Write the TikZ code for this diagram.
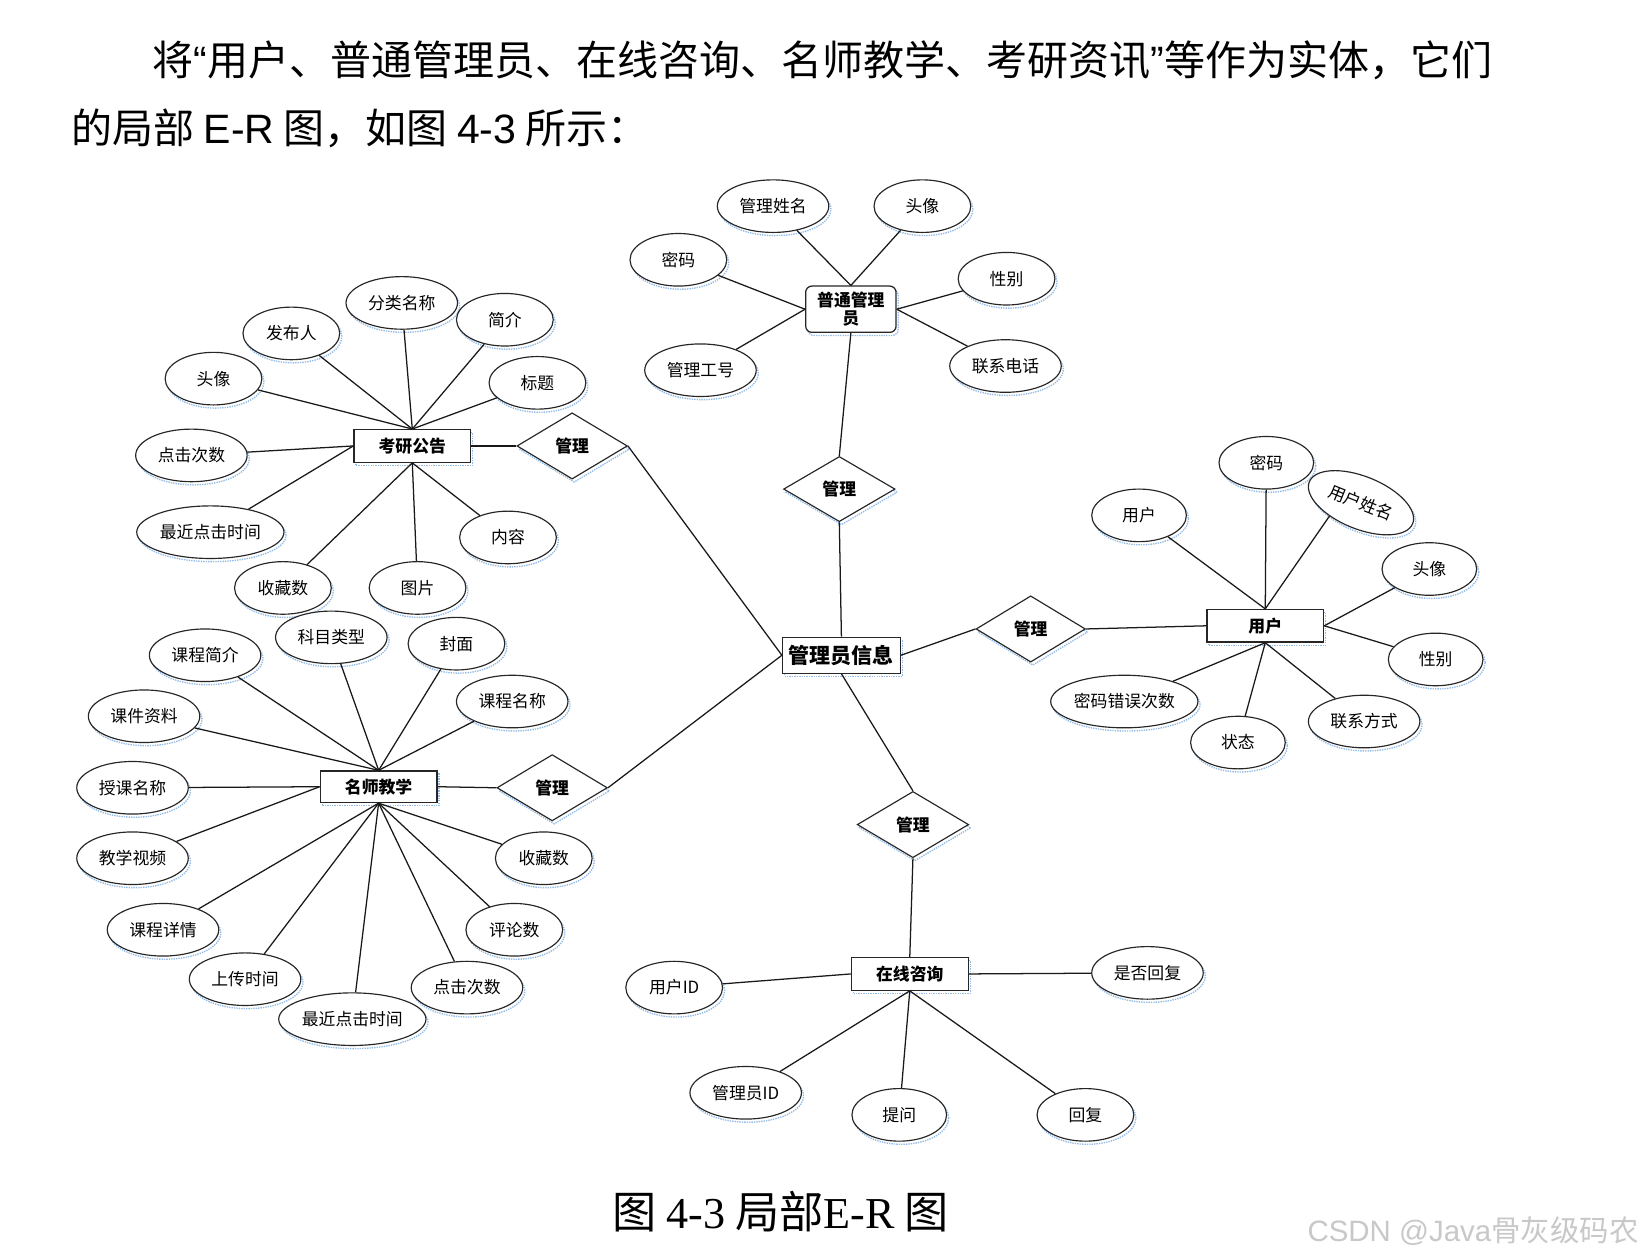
\documentclass[tikz,border=0pt]{standalone}
\usepackage{fontspec}
\setmainfont{Noto Sans CJK SC}
\newfontfamily\latinserif{Liberation Serif}
\newfontfamily\latinsans{Liberation Sans}
\usetikzlibrary{shapes.geometric,shadows}
\definecolor{shdblue}{RGB}{120,170,225}
\definecolor{wmgray}{RGB}{200,200,200}
\tikzset{
  shd/.style={drop shadow={shadow xshift=2pt, shadow yshift=-3pt, fill=none, draw=shdblue, densely dotted, line width=1.3pt, opacity=0.8}},
  attr/.style={ellipse, draw=black!85, fill=white, line width=1.1pt, inner sep=0pt, minimum height=50pt, minimum width=92pt, font=\fontsize{16}{16}\selectfont, shd},
  wide/.style={minimum width=106pt},
  xwide/.style={minimum width=140pt},
  ent/.style={rectangle, draw=black!85, fill=white, line width=1.2pt, inner sep=0pt, minimum width=111pt, minimum height=31pt, font=\fontsize{16}{16}\selectfont\bfseries, shd},
  rel/.style={diamond, draw=black!85, fill=white, line width=1.1pt, inner sep=0pt, minimum width=105pt, minimum height=63pt, font=\fontsize{16}{16}\selectfont\bfseries, shd},
  conn/.style={draw=black!90, line width=1.2pt},
}
\begin{document}
\begin{tikzpicture}[x=1pt,y=-1pt]
\useasboundingbox[fill=white] (0,0) rectangle (1565,1196);

% header text
\node[anchor=base west, inner sep=0pt, font=\fontsize{39}{39}\selectfont] (h1) at (145,72) {将{\latinsans “}用户、普通管理员、在线咨询、名师教学、考研资讯{\latinsans ”}等作为实体，它们};
\node[anchor=base west, inner sep=0pt, font=\fontsize{39}{39}\selectfont] (h2) at (68,136) {的局部 {\latinsans E-R} 图，如图 {\latinsans 4-3} 所示：};

% central entity
\node[ent, minimum width=112pt, minimum height=34pt, font=\fontsize{20}{20}\selectfont\bfseries] (M) at (800,623) {管理员信息};

% entities
\node[ent, rounded corners=6pt, minimum width=86pt, minimum height=44pt, align=center, font=\fontsize{16}{17}\selectfont\bfseries] (P) at (809,294) {普通管理\\员};
\node[ent] (K) at (392,424) {考研公告};
\node[ent, minimum height=30pt] (T) at (360,748) {名师教学};
\node[ent] (U) at (1203,595) {用户};
\node[ent] (Z) at (865,926) {在线咨询};

% relationships
\node[rel, minimum width=106pt, minimum height=62pt] (D1) at (798,465) {管理};
\node[rel] (D2) at (544,424) {管理};
\node[rel] (D3) at (525,749) {管理};
\node[rel, minimum width=104pt] (D4) at (980,598) {管理};
\node[rel, minimum width=106pt] (D5) at (868,784) {管理};

% 普通管理员 attributes
\node[attr, wide] (a1) at (735,196) {管理姓名};
\node[attr] (a2) at (877,196) {头像};
\node[attr] (a3) at (645,247) {密码};
\node[attr] (a4) at (957,265) {性别};
\node[attr, wide] (a5) at (666,352) {管理工号};
\node[attr, wide] (a6) at (956,348) {联系电话};

% 考研公告 attributes
\node[attr, wide] (b1) at (382,288) {分类名称};
\node[attr] (b2) at (277,317) {发布人};
\node[attr] (b3) at (480,304) {简介};
\node[attr] (b4) at (203,360) {头像};
\node[attr] (b5) at (511,364) {标题};
\node[attr, wide] (b6) at (182,433) {点击次数};
\node[attr, xwide] (b7) at (200,506) {最近点击时间};
\node[attr] (b8) at (269,559) {收藏数};
\node[attr] (b9) at (397,559) {图片};
\node[attr] (b10) at (483,511) {内容};

% 名师教学 attributes
\node[attr, wide] (c1) at (315,606) {科目类型};
\node[attr] (c2) at (434,612) {封面};
\node[attr, wide] (c3) at (195,623) {课程简介};
\node[attr, wide] (c4) at (487,667) {课程名称};
\node[attr, wide] (c5) at (137,681) {课件资料};
\node[attr, wide] (c6) at (126,749) {授课名称};
\node[attr, wide] (c7) at (126,816) {教学视频};
\node[attr] (c8) at (517,816) {收藏数};
\node[attr, wide] (c9) at (155,884) {课程详情};
\node[attr] (c10) at (489,884) {评论数};
\node[attr, wide] (c11) at (233,931) {上传时间};
\node[attr, wide] (c12) at (444,939) {点击次数};
\node[attr, xwide] (c13) at (335,969) {最近点击时间};

% 用户 attributes
\node[attr, minimum width=90pt] (d1) at (1204,440) {密码};
\node[attr, wide, rotate=-22] (d2) at (1294,478) {用户姓名};
\node[attr, minimum width=90pt] (d3) at (1083,490) {用户};
\node[attr, minimum width=90pt] (d4) at (1359,541) {头像};
\node[attr, minimum width=90pt] (d5) at (1365,627) {性别};
\node[attr, xwide] (d6) at (1069,667) {密码错误次数};
\node[attr, minimum width=90pt] (d7) at (1177,706) {状态};
\node[attr, wide] (d8) at (1297,686) {联系方式};

% 在线咨询 attributes
\node[attr] (e1) at (641,939) {用户ID};
\node[attr, wide] (e2) at (1091,925) {是否回复};
\node[attr, wide] (e3) at (709,1039) {管理员ID};
\node[attr, minimum width=90pt] (e4) at (855,1060) {提问};
\node[attr] (e5) at (1032,1060) {回复};

% connectors: attributes
\foreach \a/\b in {a1/P.north, a2/P.north, a3/P.west, a5/P.west, a4/P.east, a6/P.east,
  b1/K.north, b2/K.north, b3/K.north, b4/K.north, b5/K.north, b6/K.west, b7/K.west, b8/K.south, b9/K.south, b10/K.south,
  c1/T.north, c2/T.north, c3/T.north, c4/T.north, c5/T.north, c6/T.west, c7/T.west,
  c8/T.south, c9/T.south, c10/T.south, c11/T.south, c12/T.south, c13/T.south,
  d1/U.north, d3/U.north, d4/U.east, d5/U.east, d6/U.south, d7/U.south, d8/U.south,
  e1/Z.west, e2/Z.east, e3/Z.south, e4/Z.south, e5/Z.south}
  \draw[conn] (\a) -- (\b);
\draw[conn] (d2.-135) -- (U.north);

% connectors: relationships
\draw[conn] (P.south) -- (D1.north);
\draw[conn] (D1.south) -- (M.north);
\draw[conn] (K.east) -- (D2.west);
\draw[conn] (D2.east) -- (M.west);
\draw[conn] (T.east) -- (D3.west);
\draw[conn] (D3.east) -- (M.west);
\draw[conn] (M.east) -- (D4.west);
\draw[conn] (D4.east) -- (U.west);
\draw[conn] (M.south) -- (D5.north);
\draw[conn] (D5.south) -- (Z.north);

% caption
\node[anchor=base west, inner sep=0pt, font=\fontsize{42}{42}\selectfont] (cap) at (582,1168) {图 {\latinserif 4-3} 局部{\latinserif E-R} 图};
% watermark
\node[anchor=base west, inner sep=0pt, text=wmgray, font=\fontsize{28}{28}\selectfont] (wm) at (1243,1180) {{\latinsans CSDN @Java}骨灰级码农};
\end{tikzpicture}
\end{document}
